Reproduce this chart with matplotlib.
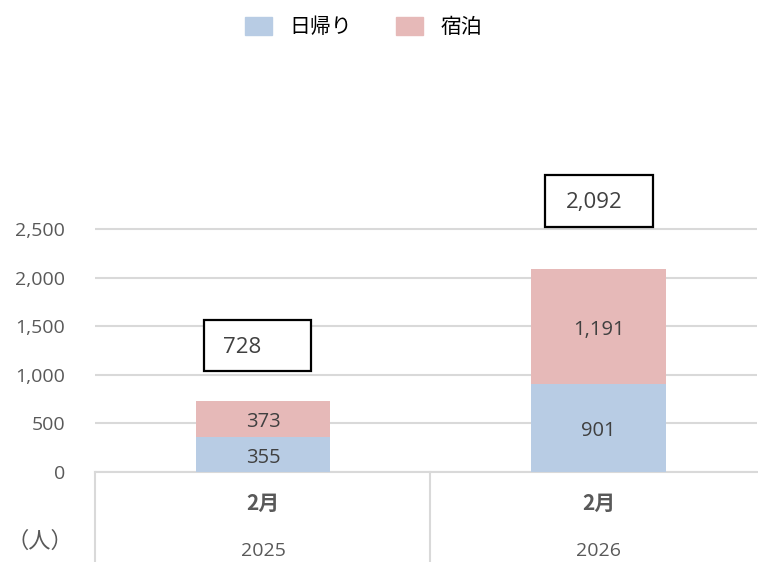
import numpy as np
import matplotlib.pyplot as plt
from matplotlib.patches import Patch, Rectangle

plt.rcParams['font.family'] = ['Noto Sans CJK JP', 'DejaVu Sans']

months = ["2月", "2月"]
years = ["2025", "2026"]
daytrip = [355, 901]
overnight = [373, 1191]
totals = [a + b for a, b in zip(daytrip, overnight)]
series_names = ["日帰り", "宿泊"]
yticks = [0, 500, 1000, 1500, 2000, 2500]

c_blue = '#b8cce4'
c_pink = '#e6b9b8'
grid_c = '#d9d9d9'
txt_c = '#595959'
num_font = ['Open Sans', 'DejaVu Sans']

fig = plt.figure(figsize=(7.58, 5.62), dpi=100)
W, H = 758, 562
ax = fig.add_axes([95 / W, 1 - 472 / H, 662 / W, (472 - 150) / H])

x = np.arange(len(months))
w = 0.40
ax.bar(x, daytrip, w, color=c_blue, zorder=3)
ax.bar(x, overnight, w, bottom=daytrip, color=c_pink, zorder=3)
ax.set_xlim(-0.5007, 1.472)
ax.set_ylim(0, 2500 * 322 / 243)
ax.set_yticks(yticks)
ax.set_yticklabels([f"{v:,}" for v in yticks], fontsize=14, color=txt_c,
                   family=num_font)
ax.tick_params(axis='y', length=0, pad=21.6)
ax.set_xticks([])
for s in ['top', 'right', 'left']:
    ax.spines[s].set_visible(False)
ax.spines['bottom'].set_color(grid_c)
ax.spines['bottom'].set_linewidth(1.5)
ax.yaxis.grid(True, color=grid_c, linewidth=1.5, zorder=0)

# segment labels (nudged a little below the middle, like the original)
for i in range(len(months)):
    ax.annotate(f"{daytrip[i]:,}", (x[i], daytrip[i] / 2), xytext=(0, -2.2),
                textcoords='offset points', ha='center', va='center',
                fontsize=14.5, color='#404040', family=num_font, zorder=4)
    ax.annotate(f"{overnight[i]:,}", (x[i], daytrip[i] + overnight[i] / 2),
                xytext=(0, -2.2), textcoords='offset points', ha='center',
                va='center', fontsize=14.5, color='#404040', family=num_font, zorder=4)

# total boxes: offsets in pixels from the bar top
box_dx = [-5.5, 0.5]
box_dy = [55.7, 68]
box_w = [107, 108]
box_h = [51, 52]
text_dx = [-15.5, -4.5]
for i in range(len(months)):
    px, py = ax.transData.transform((x[i], totals[i]))
    cx, cy = px + box_dx[i], py + box_dy[i]
    fig.add_artist(Rectangle((cx - box_w[i] / 2, cy - box_h[i] / 2), box_w[i], box_h[i],
                             transform=None, fc='white', ec='black', lw=1.6, zorder=5))
    fig.text((cx + text_dx[i]) / W, (cy - 1.5) / H, f"{totals[i]:,}", ha='center',
             va='center', fontsize=16, color='#404040', family=num_font, zorder=6)

# category axis below
for xp in [95, 430]:
    fig.add_artist(plt.Line2D([xp / W, xp / W], [0, 1 - 472 / H],
                              color=grid_c, lw=1.5))
for i in range(len(months)):
    xf = ax.transData.transform((x[i], 0))[0] / W
    fig.text(xf, 1 - 503 / H, months[i], ha='center', va='center', fontsize=15,
             fontweight='bold', color=txt_c)
    fig.text(xf, 1 - 551 / H, years[i], ha='center', va='center', fontsize=14,
             color=txt_c, family=num_font)
fig.text(40 / W, 1 - 541 / H, "（人）", ha='center', va='center', fontsize=16,
         color=txt_c)

handles = [Patch(color=c_blue), Patch(color=c_pink)]
fig.legend(handles, series_names, loc='center', bbox_to_anchor=(363.5 / W, 1 - 27 / H),
           ncol=2, frameon=False, fontsize=15, handlelength=1.3, handleheight=0.96,
           columnspacing=2.07, handletextpad=0.87)

fig.savefig('out.png', dpi=100)
